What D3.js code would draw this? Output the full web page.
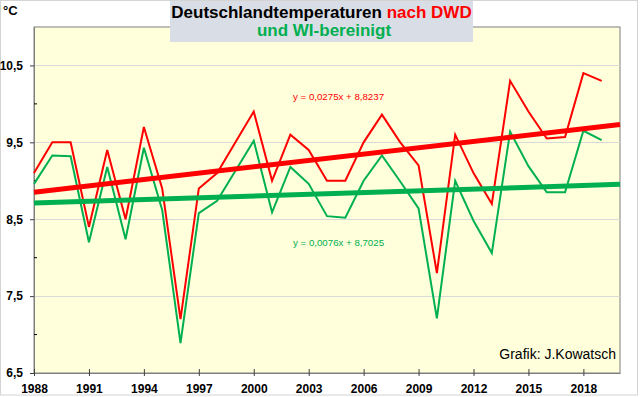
<!DOCTYPE html>
<html>
<head>
<meta charset="utf-8">
<script src="https://cdn.jsdelivr.net/npm/d3@7"></script>
<style>
  html, body { margin: 0; padding: 0; background: #fff; }
  svg { display: block; font-family: 'Liberation Sans', Arial, sans-serif; }
</style>
</head>
<body>
<div id="chart"></div>
<script>
// years 1988 - 2019
const years = [1988, 1989, 1990, 1991, 1992, 1993, 1994, 1995, 1996, 1997,
  1998, 1999, 2000, 2001, 2002, 2003, 2004, 2005, 2006, 2007,
  2008, 2009, 2010, 2011, 2012, 2013, 2014, 2015, 2016, 2017,
  2018, 2019]

// DWD annual mean (red)
const dwd = [9.1, 9.5, 9.5, 8.4, 9.4, 8.5, 9.7, 8.9, 7.2, 8.9,
  9.1, 9.5, 9.9, 9.0, 9.6, 9.4, 9.0, 9.0, 9.5, 9.86,
  9.5, 9.2, 7.8, 9.6, 9.1, 8.7, 10.3, 9.9, 9.55, 9.57,
  10.4, 10.3]

// WI-bereinigt (green)
const wi = [8.96, 9.33, 9.32, 8.2, 9.18, 8.24, 9.43, 8.62, 6.89, 8.58,
  8.74, 9.13, 9.52, 8.59, 9.18, 8.96, 8.54, 8.52, 9.0, 9.33,
  8.99, 8.64, 7.21, 9.0, 8.48, 8.06, 9.64, 9.19, 8.85, 8.85,
  9.65, 9.53]

// linear trends as printed in the chart (x = 1 for 1988)
const trendDwd = [0.0275, 8.8237]
const trendWi = [0.0076, 8.7025]

const xTicks = [1988, 1991, 1994, 1997, 2000, 2003, 2006, 2009, 2012, 2015, 2018]
const yTicks = [6.5, 7.5, 8.5, 9.5, 10.5]
const yMinor = [7, 8, 9, 10]

const W = 640, H = 397
const red = '#ff0000', green = '#00b050'
const plot = { left: 34, right: 620, top: 27, bottom: 373 }

const svg = d3.select('#chart').append('svg').attr('width', W).attr('height', H)

// outer frame
svg.append('rect').attr('x', 0.5).attr('y', 0.5).attr('width', W - 3).attr('height', H - 2.5)
  .attr('fill', '#fff').attr('stroke', '#d4d4d4')

const x = d3.scaleLinear().domain([1988, 2020]).range([plot.left, plot.right])
const y = d3.scaleLinear().domain([6.5, 11]).range([plot.bottom, plot.top])

// plot area
svg.append('rect')
  .attr('x', plot.left).attr('y', plot.top)
  .attr('width', plot.right - plot.left).attr('height', plot.bottom - plot.top)
  .attr('fill', '#ffffdc').attr('stroke', '#7f7f7f')

// grid
svg.append('g').selectAll('line').data(yTicks.slice(1)).enter()
  .append('line')
  .attr('x1', plot.left).attr('x2', plot.right)
  .attr('y1', d => Math.round(y(d)) + 0.5).attr('y2', d => Math.round(y(d)) + 0.5)
  .attr('stroke', '#d9d9d9').attr('stroke-width', 1)

const fmt = d => d3.format('.1f')(d).replace('.', ',')

// y axis
const yAxis = svg.append('g').attr('class', 'axis')
  .attr('transform', `translate(${plot.left}, 0)`)
  .call(d3.axisLeft(y).tickValues(yTicks).tickFormat(fmt).tickSizeInner(4).tickSizeOuter(0).tickPadding(7))
yAxis.selectAll('text').attr('font-size', '12px').attr('font-weight', 'bold').attr('fill', '#000')
yAxis.append('g').selectAll('line').data(yMinor).enter()
  .append('line').attr('x1', 0).attr('x2', 3)
  .attr('y1', d => y(d)).attr('y2', d => y(d)).attr('stroke', '#000')

// x axis
const xAxis = svg.append('g').attr('class', 'axis')
  .attr('transform', `translate(0, ${plot.bottom})`)
  .call(d3.axisBottom(x).tickValues(xTicks).tickFormat(d3.format('d')).tickSizeInner(3).tickSizeOuter(0).tickPadding(8))
xAxis.selectAll('.tick line').attr('y1', -4)
xAxis.selectAll('text').attr('font-size', '12px').attr('font-weight', 'bold').attr('fill', '#000')
svg.selectAll('.axis .domain').attr('stroke', '#7f7f7f')
svg.selectAll('.axis .tick line').attr('stroke', '#404040')

// series
const line = d3.line().x((d, i) => x(years[i])).y(d => y(d))
svg.append('path').datum(wi).attr('d', line)
  .attr('fill', 'none').attr('stroke', green).attr('stroke-width', 2)
svg.append('path').datum(dwd).attr('d', line)
  .attr('fill', 'none').attr('stroke', red).attr('stroke-width', 2)

// trend lines over the full x range
const trendLine = t => x.domain().map(yr => [x(yr), y(t[0] * (yr - 1987) + t[1])])
svg.append('path').attr('d', d3.line()(trendLine(trendWi)))
  .attr('stroke', green).attr('stroke-width', 5).attr('fill', 'none')
svg.append('path').attr('d', d3.line()(trendLine(trendDwd)))
  .attr('stroke', red).attr('stroke-width', 5).attr('fill', 'none')

// trend equations
const eq = t => `y = ${String(t[0]).replace('.', ',')}x + ${String(t[1]).replace('.', ',')}`
svg.append('text').attr('x', 293).attr('y', 100).text(eq(trendDwd))
  .attr('fill', red).attr('font-size', '9.7px')
svg.append('text').attr('x', 293).attr('y', 246).text(eq(trendWi))
  .attr('fill', green).attr('font-size', '9.7px')

// title box
svg.append('rect').attr('x', 170).attr('y', 1).attr('width', 303).attr('height', 41)
  .attr('fill', '#d9dde6')
const t1 = svg.append('text').attr('x', 321.5).attr('y', 18).attr('text-anchor', 'middle')
  .attr('font-size', '17px').attr('font-weight', 'bold')
t1.append('tspan').text('Deutschlandtemperaturen ').attr('fill', '#000')
t1.append('tspan').text('nach DWD').attr('fill', red)
svg.append('text').attr('x', 324).attr('y', 36).attr('text-anchor', 'middle')
  .attr('font-size', '17px').attr('font-weight', 'bold').attr('fill', green)
  .text('und WI-bereinigt')

// unit + credit
svg.append('text').attr('x', 3).attr('y', 15).text('°C')
  .attr('font-size', '13px').attr('font-weight', 'bold')
svg.append('text').attr('x', 616).attr('y', 359).attr('text-anchor', 'end')
  .text('Grafik: J.Kowatsch').attr('font-size', '14px').attr('fill', '#000')
</script>
</body>
</html>
